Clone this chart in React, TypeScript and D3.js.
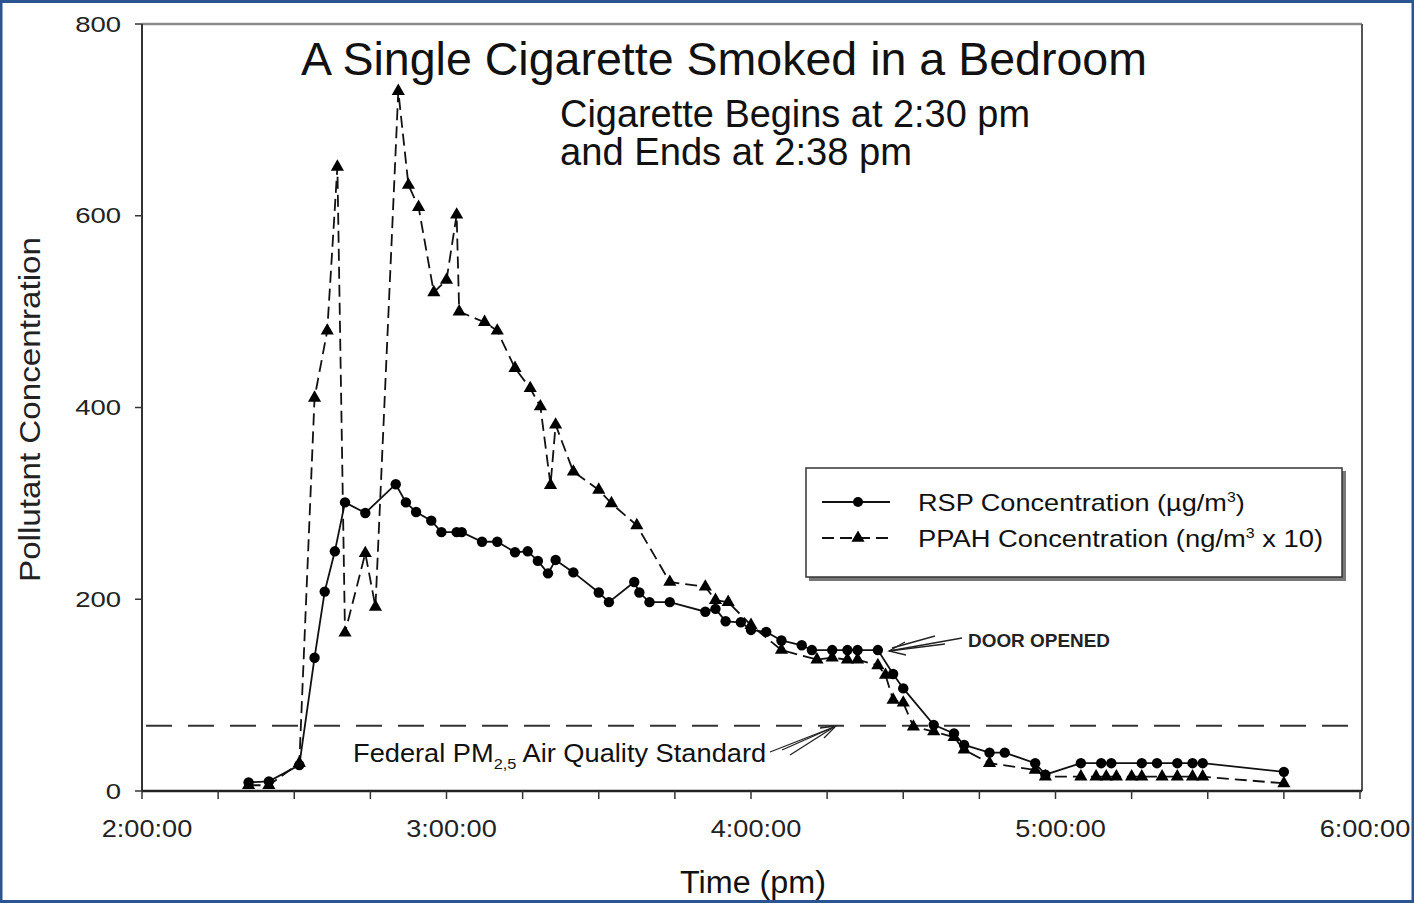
import React from "react";
import * as d3 from "d3";

// RSP concentration (ug/m3)
const rspTimes = [
  "14:21", "14:25", "14:31", "14:34", "14:36", "14:38", "14:40", "14:44", "14:50", "14:52",
  "14:54", "14:57", "14:59", "15:02", "15:03", "15:07", "15:10", "15:13:30", "15:16", "15:18",
  "15:20", "15:21:30", "15:25", "15:30", "15:32", "15:37", "15:38", "15:40", "15:44", "15:51",
  "15:53", "15:55", "15:58", "16:00", "16:03", "16:06", "16:10", "16:12", "16:16", "16:19",
  "16:21", "16:25", "16:28", "16:30", "16:36", "16:40", "16:42", "16:47", "16:50", "16:56",
  "16:58", "17:05", "17:09", "17:11", "17:17", "17:20", "17:24", "17:27", "17:29", "17:45",
];
const rspValues = [
  9, 10, 27, 139, 208, 250, 301, 290, 320, 301,
  291, 282, 270, 270, 270, 260, 260, 249, 250, 240,
  227, 241, 228, 207, 197, 218, 207, 197, 197, 187,
  190, 177, 176, 168, 166, 157, 152, 147, 147, 147,
  147, 147, 122, 107, 69, 60, 48, 40, 40, 29,
  17, 29, 29, 29, 29, 29, 29, 29, 29, 20,
];

// PPAH concentration (ng/m3 x 10)
const ppahTimes = [
  "14:21", "14:25", "14:31", "14:34", "14:36:30", "14:38:30", "14:40", "14:44", "14:46", "14:50:30",
  "14:52:30", "14:54:30", "14:57:30", "15:00", "15:02", "15:02:30", "15:07:30", "15:10", "15:13:30", "15:16:30",
  "15:18:30", "15:20:30", "15:21:30", "15:25", "15:30", "15:32:30", "15:37:30", "15:44", "15:51", "15:53",
  "15:55:30", "16:00", "16:06", "16:13", "16:16", "16:19", "16:21", "16:25", "16:26:30", "16:28",
  "16:30", "16:32", "16:36", "16:40", "16:42", "16:47", "16:56", "16:58", "17:05", "17:08",
  "17:10", "17:12", "17:15", "17:17", "17:21", "17:24", "17:27", "17:29", "17:45",
];
const ppahValues = [
  6, 6, 29, 410, 480, 651, 165, 248, 192, 730,
  632, 609, 520, 533, 601, 500, 489, 480, 441, 420,
  401, 319, 382, 333, 314, 300, 277, 218, 213, 199,
  197, 173, 147, 137, 139, 137, 137, 131, 121, 95,
  92, 67, 62, 56, 43, 29, 22, 15, 15, 15,
  15, 15, 15, 15, 15, 15, 15, 15, 8,
];

const standardValue = 68;
const yTicks = [0, 200, 400, 600, 800];
const xTickTimes = ["14:00", "15:00", "16:00", "17:00", "18:00"];
const legendLabels = ["RSP Concentration (\u00b5g/m", "PPAH Concentration (ng/m"];

const W = 1414;
const H = 903;
const font = "'Liberation Sans', Arial, sans-serif";

const parse = (s: string) => {
  const full = s.length === 5 ? s + ":00" : s;
  return d3.timeParse("%Y-%m-%d %H:%M:%S")("2000-01-01 " + full) as Date;
};

export default function App() {
  const x = d3
    .scaleTime()
    .domain([parse("14:00"), parse("18:00")])
    .range([142, 1360]);
  const y = d3.scaleLinear().domain([0, 800]).range([791, 24]);

  const rsp = rspTimes.map((t, i) => ({ t: parse(t), v: rspValues[i] }));
  const ppah = ppahTimes.map((t, i) => ({ t: parse(t), v: ppahValues[i] }));

  const line = d3
    .line<{ t: Date; v: number }>()
    .x((d) => x(d.t))
    .y((d) => y(d.v));

  const tri = d3.symbol(d3.symbolTriangle, 75)();
  const minorTicks = d3.timeMinute.every(15)!.range(parse("14:00"), parse("18:00:01"));
  const fmt = d3.timeFormat("%-I:%M:%S");
  const [x0, x1] = x.range();
  const [y0, y1] = y.range();

  return (
    <div style={{ position: "absolute", left: 0, top: 0 }}>
      <svg width={W} height={H} style={{ display: "block", background: "#fff" }}>
        {/* page frame */}
        <rect x={1} y={1.5} width={W - 2} height={H - 3} fill="none" stroke="#2a5592" strokeWidth={3} />

        {/* plot frame */}
        <line x1={x0} x2={x1 + 2} y1={y1} y2={y1} stroke="#8a8a8a" strokeWidth={2.5} />
        <line x1={x1 + 2} x2={x1 + 2} y1={y1} y2={y0} stroke="#555" strokeWidth={2} />
        <line x1={x0} x2={x0} y1={y1} y2={y0} stroke="#333" strokeWidth={2} />
        <line x1={x0} x2={x1 + 2} y1={y0} y2={y0} stroke="#222" strokeWidth={2.5} />

        {/* y axis */}
        {yTicks.map((t) => (
          <g key={t}>
            <line x1={x0 - 7} x2={x0} y1={y(t)} y2={y(t)} stroke="#333" strokeWidth={1.5} />
            <text
              transform={`translate(${x0 - 21},${y(t)}) scale(1.25,1)`}
              dy="0.35em"
              textAnchor="end"
              fontFamily={font}
              fontSize={22}
              fill="#222"
            >
              {t}
            </text>
          </g>
        ))}
        <text
          transform={`translate(40,${(y0 + y1) / 2 + 2}) rotate(-90)`}
          textAnchor="middle"
          fontFamily={font}
          fontSize={29}
          fill="#222"
          textLength={345}
          lengthAdjust="spacingAndGlyphs"
        >
          Pollutant Concentration
        </text>

        {/* x axis */}
        {minorTicks.map((t, i) => (
          <line key={i} x1={x(t)} x2={x(t)} y1={y0} y2={y0 + 8} stroke="#333" strokeWidth={1.5} />
        ))}
        {xTickTimes.map((s) => (
          <text
            key={s}
            transform={`translate(${x(parse(s)) + 5},837) scale(1.18,1)`}
            textAnchor="middle"
            fontFamily={font}
            fontSize={23}
            fill="#222"
          >
            {fmt(parse(s))}
          </text>
        ))}
        <text
          x={753}
          y={893}
          textAnchor="middle"
          fontFamily={font}
          fontSize={31}
          fill="#111"
          textLength={146}
          lengthAdjust="spacingAndGlyphs"
        >
          Time (pm)
        </text>

        {/* federal standard */}
        <line
          x1={x0 + 4}
          x2={x1}
          y1={y(standardValue)}
          y2={y(standardValue)}
          stroke="#333"
          strokeWidth={2}
          strokeDasharray="26 16"
        />
        <text transform="translate(353,762) scale(1.09,1)" fontFamily={font} fontSize={25} fill="#111">
          Federal PM<tspan dy={7} fontSize={15}>2,5</tspan>
          <tspan dy={-7}> Air Quality Standard</tspan>
        </text>
        <g stroke="#222" strokeWidth={1.3} fill="none">
          <path d="M770,752 L834,727" />
          <path d="M782,750 L834,727" />
          <path d="M790,755 L834,727" />
          <path d="M820,728 L836,726 L824,738" />
        </g>

        {/* door opened */}
        <text
          x={968}
          y={647}
          fontFamily={font}
          fontSize={18}
          fontWeight="bold"
          fill="#222"
          textLength={142}
          lengthAdjust="spacingAndGlyphs"
        >
          DOOR OPENED
        </text>
        <g stroke="#222" strokeWidth={1.3} fill="none">
          <path d="M962,638 L889,651" />
          <path d="M945,644 L889,651" />
          <path d="M935,636 L892,648" />
          <path d="M905,642 L889,651 L906,655" />
        </g>

        {/* series */}
        <path d={line(ppah) ?? ""} fill="none" stroke="#111" strokeWidth={1.8} strokeDasharray="12 6" />
        <path d={line(rsp) ?? ""} fill="none" stroke="#111" strokeWidth={1.8} />
        {ppah.map((d, i) => (
          <path key={"p" + i} d={tri ?? ""} transform={`translate(${x(d.t)},${y(d.v)})`} fill="#000" />
        ))}
        {rsp.map((d, i) => (
          <circle key={"r" + i} cx={x(d.t)} cy={y(d.v)} r={5.2} fill="#000" />
        ))}

        {/* titles */}
        <text
          x={301}
          y={75}
          fontFamily={font}
          fontSize={46}
          fill="#111"
          textLength={846}
          lengthAdjust="spacingAndGlyphs"
        >
          A Single Cigarette Smoked in a Bedroom
        </text>
        <text
          x={560}
          y={127}
          fontFamily={font}
          fontSize={38}
          fill="#111"
          textLength={470}
          lengthAdjust="spacingAndGlyphs"
        >
          Cigarette Begins at 2:30 pm
        </text>
        <text
          x={560}
          y={165}
          fontFamily={font}
          fontSize={38}
          fill="#111"
          textLength={352}
          lengthAdjust="spacingAndGlyphs"
        >
          and Ends at 2:38 pm
        </text>

        {/* legend */}
        <rect x={809} y={471} width={537} height={110} fill="#777" />
        <rect x={806} y={468} width={536} height={109} fill="#fff" stroke="#333" strokeWidth={1.5} />
        <line x1={822} x2={890} y1={502} y2={502} stroke="#111" strokeWidth={1.8} />
        <circle cx={858} cy={502} r={5} fill="#000" />
        <line x1={822} x2={890} y1={538} y2={538} stroke="#111" strokeWidth={1.8} strokeDasharray="12 6" />
        <path d={tri ?? ""} transform="translate(858,538)" fill="#000" />
        <text transform="translate(918,511) scale(1.13,1)" fontFamily={font} fontSize={24} fill="#111">
          {legendLabels[0]}
          <tspan dy={-9} fontSize={14}>3</tspan>
          <tspan dy={9}>)</tspan>
        </text>
        <text transform="translate(918,547) scale(1.14,1)" fontFamily={font} fontSize={24} fill="#111">
          {legendLabels[1]}
          <tspan dy={-9} fontSize={14}>3</tspan>
          <tspan dy={9}> x 10)</tspan>
        </text>
      </svg>
    </div>
  );
}
